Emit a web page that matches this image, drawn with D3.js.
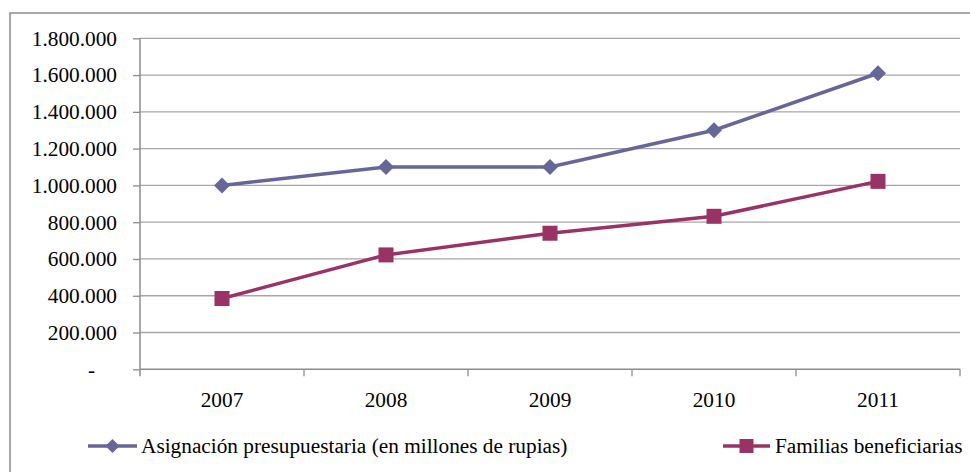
<!DOCTYPE html>
<html><head><meta charset="utf-8">
<script src="https://cdn.jsdelivr.net/npm/d3@7"></script>
<style>body{margin:0;background:#fff}svg{display:block}
svg text{font-family:"Liberation Serif","Times New Roman",Tinos,"DejaVu Serif",serif !important;}</style>
</head><body>
<svg id="c" width="970" height="472"></svg>
<script>
const categories = ["2007","2008","2009","2010","2011"];
const asignacion = [1000000,1100000,1100000,1300000,1610000];
const familias = [385000,622000,740000,832000,1022000];
const yTicks = [0,200000,400000,600000,800000,1000000,1200000,1400000,1600000,1800000];
const seriesNames = ["Asignación presupuestaria (en millones de rupias)","Familias beneficiarias"];
const colors = ["#666699","#993366"];

const svg = d3.select("#c");
const font = "Liberation Serif";
const fs = 21.3;
const L = 140, R = 960, T = 38.3, B = 369.3;

// outer border
svg.append("rect").attr("x",10).attr("y",13).attr("width",980).attr("height",480)
  .attr("fill","none").attr("stroke","#8c8c8c").attr("stroke-width",1.5);

const x = d3.scaleBand().domain(categories).range([L,R]);
const y = d3.scaleLinear().domain([0,1800000]).range([B,T]);
const fmt = v => v===0 ? "-" : d3.format(",")(v).replace(/,/g,".");

// gridlines
svg.append("g").selectAll("line").data(yTicks.filter(d=>d>0)).join("line")
  .attr("x1",L).attr("x2",R).attr("y1",d=>y(d)).attr("y2",d=>y(d))
  .attr("stroke","#a6a6a6").attr("stroke-width",1.3);

// y axis
const ya = svg.append("g").attr("transform",`translate(${L},0)`)
  .call(d3.axisLeft(y).tickValues(yTicks).tickFormat(fmt).tickSize(7).tickPadding(16));
ya.attr("font-family",font);
ya.select(".domain").attr("stroke","#8c8c8c").attr("stroke-width",1.5).attr("d",`M0,${B+7}V${T}`);
ya.selectAll(".tick line").attr("stroke","#8c8c8c").attr("stroke-width",1.3);
ya.selectAll("text").attr("font-size",fs).attr("fill","#000")
  .attr("dx", d => d===0 ? -22 : 0);

// x axis
const xa = svg.append("g").attr("transform",`translate(0,${B})`)
  .call(d3.axisBottom(x).tickSize(0).tickPadding(23));
xa.attr("font-family",font);
xa.select(".domain").attr("stroke","#8c8c8c").attr("stroke-width",1.5).attr("d",`M${L},0H${R}`);
xa.selectAll("text").attr("font-size",fs).attr("fill","#000");
xa.selectAll(".bnd").data(categories.slice(1).concat(["end"])).join("line").attr("class","bnd")
  .attr("x1",(d,i)=>L + x.step()*(i+1)).attr("x2",(d,i)=>L + x.step()*(i+1))
  .attr("y1",0).attr("y2",7).attr("stroke","#8c8c8c").attr("stroke-width",1.3);

const cx = d => x(d) + x.bandwidth()/2;
const line = d3.line().x((d,i)=>cx(categories[i])).y(d=>y(d));

[asignacion, familias].forEach((vals, si) => {
  svg.append("path").datum(vals).attr("d", line).attr("fill","none")
    .attr("stroke", colors[si]).attr("stroke-width", 3.5);
  const g = svg.append("g");
  vals.forEach((v,i) => {
    if (si===0) {
      g.append("path").attr("d", "M0,-8L8,0L0,8L-8,0Z")
        .attr("transform", `translate(${cx(categories[i])},${y(v)})`).attr("fill", colors[0]);
    } else {
      g.append("rect").attr("x", cx(categories[i])-7.5).attr("y", y(v)-7.5)
        .attr("width",15).attr("height",15).attr("fill", colors[1]);
    }
  });
});

// legend
const legY = 446;
const leg = [{x0:88, x1:137, tx:141, name:seriesNames[0]},{x0:723, x1:770, tx:775, name:seriesNames[1]}];
leg.forEach((l, i) => {
  svg.append("line").attr("x1",l.x0).attr("x2",l.x1).attr("y1",legY).attr("y2",legY)
    .attr("stroke",colors[i]).attr("stroke-width",3.5);
  const mx = (l.x0+l.x1)/2;
  if (i===0) svg.append("path").attr("d","M0,-7L7,0L0,7L-7,0Z").attr("transform",`translate(${mx},${legY})`).attr("fill",colors[0]);
  else svg.append("rect").attr("x",mx-7).attr("y",legY-7).attr("width",14).attr("height",14).attr("fill",colors[1]);
  svg.append("text").attr("x",l.tx).attr("y",legY).attr("dy","0.35em")
    .attr("font-family",font).attr("font-size",fs).attr("fill","#000").text(l.name);
});
</script>
</body></html>
